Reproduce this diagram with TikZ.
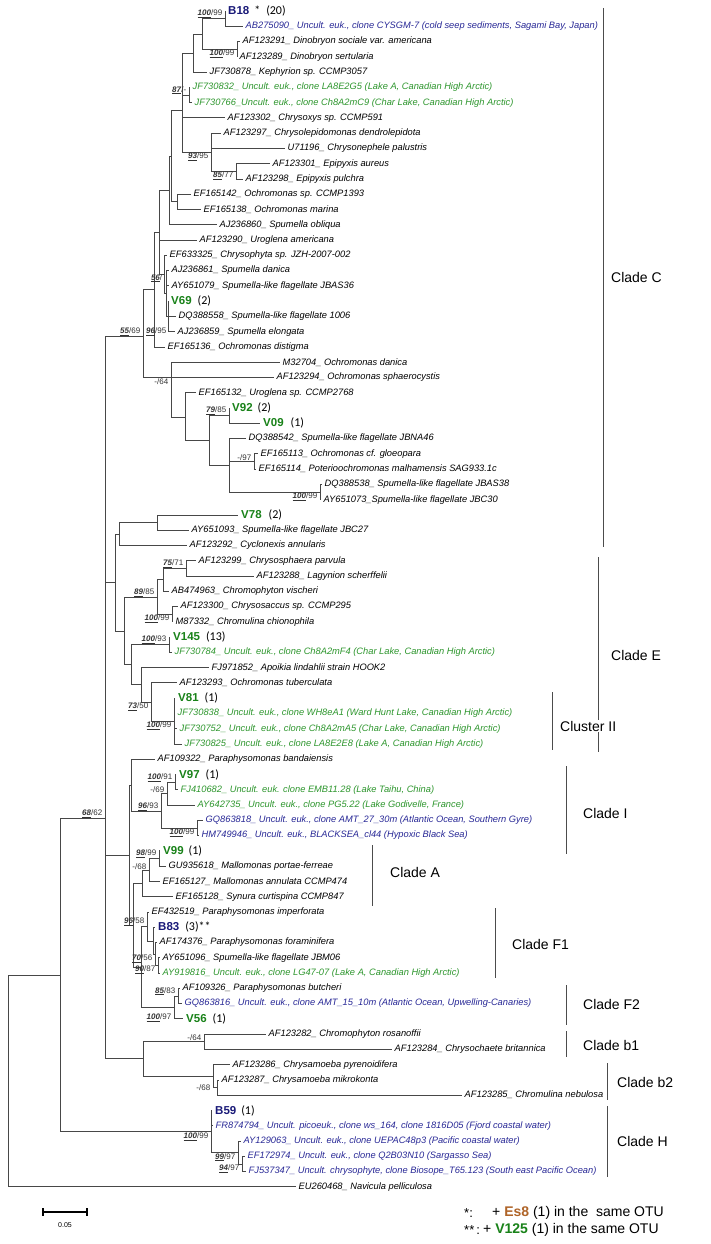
\documentclass[tikz,border=0pt]{standalone}
\usepackage{fontspec}
\setmainfont{Liberation Sans}
\newfontfamily\carl{Carlito}
\definecolor{seqgreen}{RGB}{45,150,45}
\definecolor{otugreen}{RGB}{25,130,25}
\definecolor{seqblue}{RGB}{40,40,150}
\definecolor{otublue}{RGB}{25,25,120}
\definecolor{esbrown}{RGB}{175,100,40}
\newcommand\lfont{\fontsize{9.3}{10}\selectfont\itshape}
\newcommand\ofont{\fontsize{11.5}{12}\selectfont\bfseries}
\newcommand\cnt[1]{{\color{black}\carl\mdseries\upshape\fontsize{12}{12}\selectfont #1}}
\newcommand\bsv[2]{\underline{\textbf{\textit{#1}}}/#2}
\newcommand\edgeN[2]{\draw[tr] (#1) |- (#2);}
\newcommand\edgeL[2]{\draw[tr] (#1) |- (#2.west);}
\tikzset{
 tr/.style={line width=0.8pt, draw=black!72},
 lf/.style={anchor=west, inner xsep=2.5pt, inner ysep=0.5pt, font=\lfont},
 lg/.style={lf, text=seqgreen},
 lb/.style={lf, text=seqblue},
 og/.style={anchor=west, inner xsep=3pt, inner ysep=0.5pt, font=\ofont, text=otugreen},
 ob/.style={og, text=otublue},
 sl/.style={font=\fontsize{8}{8}\selectfont, inner sep=0.6pt, text=black!80},
 brk/.style={line width=0.8pt, draw=black!70},
 cl/.style={anchor=west, font=\fontsize{14}{14}\selectfont, inner sep=0pt},
}
\begin{document}
\begin{tikzpicture}[x=1pt,y=-1pt]
\useasboundingbox[fill=white] (0,0) rectangle (710,1244);
\begin{scope}[y=-15.27pt, yshift=4.27pt]
% ---------- internal nodes ----------
\coordinate (nB18) at (225,1.5);
\coordinate (nDino) at (237,3.5);
\coordinate (nBD) at (202,2.5);
\coordinate (nBDK) at (193,3.75);
\coordinate (nGreen) at (189,6.5);
\coordinate (nA) at (182,7.5);
\coordinate (nChryso) at (211,10.25);
\coordinate (nEpi) at (236,11.5);
\coordinate (nOchro) at (177,13.5);
\coordinate (n171a) at (171,10.5);
\coordinate (n171b) at (169,12.75);
\coordinate (n159) at (159,15.5);
\coordinate (nSp3) at (164,18.25);
\coordinate (n166) at (166,19.5);
\coordinate (nSpA) at (168,21);
\coordinate (n154) at (154,19.25);
\coordinate (n171L) at (171,25);
\coordinate (nUro) at (185,27.6);
\coordinate (nV) at (209,29.1);
\coordinate (nV9) at (229,27.5);
\coordinate (nS) at (229,30.75);
\coordinate (nEF) at (254,30.5);
\coordinate (nJB) at (320,32.5);
\coordinate (nC) at (143,22.3);
\coordinate (nV78) at (157,34.5);
\coordinate (n119) at (119,35.25);
\coordinate (nLag) at (186,37.5);
\coordinate (n163) at (163,38.25);
\coordinate (nSac) at (172,40.5);
\coordinate (n157) at (157,39.4);
\coordinate (nV145) at (169,42.5);
\coordinate (nCII) at (174,47.5);
\coordinate (n151) at (151,46.25);
\coordinate (n141) at (141,45.1);
\coordinate (n131E) at (131,43.8);
\coordinate (n124) at (124,41.6);
\coordinate (n115) at (115,38.4);
\coordinate (nV97) at (175,51.5);
\coordinate (n167) at (167,52.25);
\coordinate (nHM) at (197,54.5);
\coordinate (n161) at (161,53.4);
\coordinate (nI) at (131,51.7);
\coordinate (nV99) at (159,56.5);
\coordinate (n149) at (149,57.25);
\coordinate (n142) at (142,58.1);
\coordinate (nFa) at (158,63.5);
\coordinate (nFb) at (155,62.75);
\coordinate (nFc) at (153,61.9);
\coordinate (nFd) at (147,60.95);
\coordinate (nBut) at (178,65.5);
\coordinate (nF2) at (174,66.25);
\coordinate (n141F) at (141,63.6);
\coordinate (nAF) at (133,60.85);
\coordinate (nIAF) at (129,56.3);
\coordinate (nb1) at (204,68.5);
\coordinate (nb2a) at (217,71.5);
\coordinate (nb2) at (213,70.75);
\coordinate (nb) at (143,69.6);
\coordinate (n105) at (105,53.9);
\coordinate (nHa) at (242,76.5);
\coordinate (nHb) at (238,75.75);
\coordinate (nHc) at (211,74.4);
\coordinate (n60) at (60,64.15);
\coordinate (root) at (8,71.1);
% ---------- leaves ----------
\node[ob] (L1) at (225,1) {B18\hspace{5pt}\cnt{*\hspace{6pt}(20)}};
\node[lb] (L2) at (243,2) {AB275090\_ Uncult. euk., clone CYSGM-7 (cold seep sediments, Sagami Bay, Japan)};
\node[lf] (L3) at (240,3) {AF123291\_ Dinobryon sociale var. americana};
\node[lf] (L4) at (237,4) {AF123289\_ Dinobryon sertularia};
\node[lf] (L5) at (207,5) {JF730878\_ Kephyrion sp. CCMP3057};
\node[lg] (L6) at (190,6) {JF730832\_ Uncult. euk., clone LA8E2G5 (Lake A, Canadian High Arctic)};
\node[lg] (L7) at (192,7) {JF730766\_Uncult. euk., clone Ch8A2mC9 (Char Lake, Canadian High Arctic)};
\node[lf] (L8) at (225,8) {AF123302\_ Chrysoxys sp. CCMP591};
\node[lf] (L9) at (221,9) {AF123297\_ Chrysolepidomonas dendrolepidota};
\node[lf] (L10) at (285,10) {U71196\_ Chrysonephele palustris};
\node[lf] (L11) at (270,11) {AF123301\_ Epipyxis aureus};
\node[lf] (L12) at (243,12) {AF123298\_ Epipyxis pulchra};
\node[lf] (L13) at (191,13) {EF165142\_ Ochromonas sp. CCMP1393};
\node[lf] (L14) at (201,14) {EF165138\_ Ochromonas marina};
\node[lf] (L15) at (217,15) {AJ236860\_ Spumella obliqua};
\node[lf] (L16) at (197,16) {AF123290\_ Uroglena americana};
\node[lf] (L17) at (167,17) {EF633325\_ Chrysophyta sp. JZH-2007-002};
\node[lf] (L18) at (169,18) {AJ236861\_ Spumella danica};
\node[lf] (L19) at (169,19) {AY651079\_ Spumella-like flagellate JBAS36};
\node[og] (L20) at (168,20) {V69\hspace{6pt}\cnt{(2)}};
\node[lf] (L21) at (176,21) {DQ388558\_ Spumella-like flagellate 1006};
\node[lf] (L22) at (175,22) {AJ236859\_ Spumella elongata};
\node[lf] (L23) at (165,23) {EF165136\_ Ochromonas distigma};
\node[lf] (L24) at (280,24) {M32704\_ Ochromonas danica};
\node[lf] (L25) at (274,25) {AF123294\_ Ochromonas sphaerocystis};
\node[lf] (L26) at (196,26) {EF165132\_ Uroglena sp. CCMP2768};
\node[og] (L27) at (229,27) {V92\hspace{5pt}\cnt{(2)}};
\node[og] (L28) at (260,28) {V09\hspace{7pt}\cnt{(1)}};
\node[lf] (L29) at (246,29) {DQ388542\_ Spumella-like flagellate JBNA46};
\node[lf] (L30) at (258,30) {EF165113\_ Ochromonas cf. gloeopara};
\node[lf] (L31) at (256,31) {EF165114\_ Poterioochromonas malhamensis SAG933.1c};
\node[lf] (L32) at (322,32) {DQ388538\_ Spumella-like flagellate JBAS38};
\node[lf] (L33) at (321,33) {AY651073\_Spumella-like flagellate JBC30};
\node[og] (L34) at (238,34) {V78\hspace{7pt}\cnt{(2)}};
\node[lf] (L35) at (189,35) {AY651093\_ Spumella-like flagellate JBC27};
\node[lf] (L36) at (187,36) {AF123292\_ Cyclonexis annularis};
\node[lf] (L37) at (196,37) {AF123299\_ Chrysosphaera parvula};
\node[lf] (L38) at (254,38) {AF123288\_ Lagynion scherffelii};
\node[lf] (L39) at (169,39) {AB474963\_ Chromophyton vischeri};
\node[lf] (L40) at (178,40) {AF123300\_ Chrysosaccus sp. CCMP295};
\node[lf] (L41) at (173,41) {M87332\_ Chromulina chionophila};
\node[og] (L42) at (170,42) {V145\hspace{6pt}\cnt{(13)}};
\node[lg] (L43) at (172,43) {JF730784\_ Uncult. euk., clone Ch8A2mF4 (Char Lake, Canadian High Arctic)};
\node[lf] (L44) at (209,44) {FJ971852\_ Apoikia lindahlii strain HOOK2};
\node[lf] (L45) at (177,45) {AF123293\_ Ochromonas tuberculata};
\node[og] (L46) at (175,46) {V81\hspace{6pt}\cnt{(1)}};
\node[lg] (L47) at (175,47) {JF730838\_ Uncult. euk., clone WH8eA1 (Ward Hunt Lake, Canadian High Arctic)};
\node[lg] (L48) at (177,48) {JF730752\_ Uncult. euk., clone Ch8A2mA5 (Char Lake, Canadian High Arctic)};
\node[lg] (L49) at (182,49) {JF730825\_ Uncult. euk., clone LA8E2E8 (Lake A, Canadian High Arctic)};
\node[lf] (L50) at (155,50) {AF109322\_ Paraphysomonas bandaiensis};
\node[og] (L51) at (176,51) {V97\hspace{6pt}\cnt{(1)}};
\node[lg] (L52) at (178,52) {FJ410682\_ Uncult. euk. clone EMB11.28 (Lake Taihu, China)};
\node[lg] (L53) at (195,53) {AY642735\_ Uncult. euk., clone PG5.22 (Lake Godivelle, France)};
\node[lb] (L54) at (203,54) {GQ863818\_ Uncult. euk., clone AMT\_27\_30m (Atlantic Ocean, Southern Gyre)};
\node[lb] (L55) at (199,55) {HM749946\_ Uncult. euk., BLACKSEA\_cl44 (Hypoxic Black Sea)};
\node[og] (L56) at (160,56) {V99\hspace{5pt}\cnt{(1)}};
\node[lf] (L57) at (166,57) {GU935618\_ Mallomonas portae-ferreae};
\node[lf] (L58) at (160,58) {EF165127\_ Mallomonas annulata CCMP474};
\node[lf] (L59) at (173,59) {EF165128\_ Synura curtispina CCMP847};
\node[lf] (L60) at (149,60) {EF432519\_ Paraphysomonas imperforata};
\node[ob] (L61) at (155,61) {B83\hspace{6pt}\cnt{(3)**}};
\node[lf] (L62) at (157,62) {AF174376\_ Paraphysomonas foraminifera};
\node[lf] (L63) at (160,63) {AY651096\_ Spumella-like flagellate JBM06};
\node[lg] (L64) at (160,64) {AY919816\_ Uncult. euk., clone LG47-07 (Lake A, Canadian High Arctic)};
\node[lf] (L65) at (180,65) {AF109326\_ Paraphysomonas butcheri};
\node[lb] (L66) at (182,66) {GQ863816\_ Uncult. euk., clone AMT\_15\_10m (Atlantic Ocean, Upwelling-Canaries)};
\node[og] (L67) at (183,67) {V56\hspace{6pt}\cnt{(1)}};
\node[lf] (L68) at (266,68) {AF123282\_ Chromophyton rosanoffii};
\node[lf] (L69) at (392,69) {AF123284\_ Chrysochaete britannica};
\node[lf] (L70) at (230,70) {AF123286\_ Chrysamoeba pyrenoidifera};
\node[lf] (L71) at (219,71) {AF123287\_ Chrysamoeba mikrokonta};
\node[lf] (L72) at (462,72) {AF123285\_ Chromulina nebulosa};
\node[ob] (L73) at (212,73) {B59\hspace{5pt}\cnt{(1)}};
\node[lb] (L74) at (213,74) {FR874794\_ Uncult. picoeuk., clone ws\_164, clone 1816D05 (Fjord coastal water)};
\node[lb] (L75) at (241,75) {AY129063\_ Uncult. euk., clone UEPAC48p3 (Pacific coastal water)};
\node[lb] (L76) at (245,76) {EF172974\_ Uncult. euk., clone Q2B03N10 (Sargasso Sea)};
\node[lb] (L77) at (246,77) {FJ537347\_ Uncult. chrysophyte, clone Biosope\_T65.123 (South east Pacific Ocean)};
\node[lf] (L78) at (296,78) {EU260468\_ Navicula pelliculosa};
% ---------- edges ----------
\edgeL{nB18}{L1} \edgeL{nB18}{L2}
\edgeL{nDino}{L3} \edgeL{nDino}{L4}
\edgeN{nBD}{nB18} \edgeN{nBD}{nDino}
\edgeN{nBDK}{nBD} \edgeL{nBDK}{L5}
\edgeL{nGreen}{L6} \edgeL{nGreen}{L7}
\edgeN{nA}{nBDK} \edgeN{nA}{nGreen} \edgeL{nA}{L8} \edgeN{nA}{nChryso}
\edgeL{nChryso}{L9} \edgeL{nChryso}{L10} \edgeN{nChryso}{nEpi}
\edgeL{nEpi}{L11} \edgeL{nEpi}{L12}
\edgeL{nOchro}{L13} \edgeL{nOchro}{L14}
\edgeN{n171a}{nA} \edgeN{n171a}{nOchro}
\edgeN{n171b}{n171a} \edgeL{n171b}{L15}
\edgeN{n159}{n171b} \edgeL{n159}{L16} \edgeN{n159}{nSp3}
\edgeL{nSp3}{L17} \edgeN{nSp3}{n166}
\edgeL{n166}{L18} \edgeL{n166}{L19} \edgeN{n166}{nSpA}
\edgeL{nSpA}{L20} \edgeL{nSpA}{L21} \edgeL{nSpA}{L22}
\edgeN{n154}{n159} \edgeL{n154}{L23}
\edgeL{n171L}{L24} \edgeL{n171L}{L25} \edgeN{n171L}{nUro}
\edgeL{nUro}{L26} \edgeN{nUro}{nV}
\edgeN{nV}{nV9} \edgeN{nV}{nS}
\edgeL{nV9}{L27} \edgeL{nV9}{L28}
\edgeL{nS}{L29} \edgeN{nS}{nEF} \edgeN{nS}{nJB}
\edgeL{nEF}{L30} \edgeL{nEF}{L31}
\edgeL{nJB}{L32} \edgeL{nJB}{L33}
\edgeN{nC}{n154} \edgeN{nC}{n171L}
\edgeL{nV78}{L34} \edgeL{nV78}{L35}
\edgeN{n119}{nV78} \edgeL{n119}{L36}
\edgeL{nLag}{L37} \edgeL{nLag}{L38}
\edgeN{n163}{nLag} \edgeL{n163}{L39}
\edgeL{nSac}{L40} \edgeL{nSac}{L41}
\edgeN{n157}{n163} \edgeN{n157}{nSac}
\edgeL{nV145}{L42} \edgeL{nV145}{L43}
\edgeL{nCII}{L46} \edgeL{nCII}{L47} \edgeL{nCII}{L48} \edgeL{nCII}{L49}
\edgeL{n151}{L45} \edgeN{n151}{nCII}
\edgeL{n141}{L44} \edgeN{n141}{n151}
\edgeN{n131E}{nV145} \edgeN{n131E}{n141}
\edgeN{n124}{n157} \edgeN{n124}{n131E}
\edgeN{n115}{n119} \edgeN{n115}{n124}
\edgeL{nV97}{L51} \edgeL{nV97}{L52}
\edgeN{n167}{nV97} \edgeL{n167}{L53}
\edgeL{nHM}{L54} \edgeL{nHM}{L55}
\edgeN{n161}{n167} \edgeN{n161}{nHM}
\edgeL{nI}{L50} \edgeN{nI}{n161}
\edgeL{nV99}{L56} \edgeL{nV99}{L57}
\edgeN{n149}{nV99} \edgeL{n149}{L58}
\edgeN{n142}{n149} \edgeL{n142}{L59}
\edgeL{nFa}{L63} \edgeL{nFa}{L64}
\edgeL{nFb}{L62} \edgeN{nFb}{nFa}
\edgeL{nFc}{L61} \edgeN{nFc}{nFb}
\edgeL{nFd}{L60} \edgeN{nFd}{nFc}
\edgeL{nBut}{L65} \edgeL{nBut}{L66}
\edgeN{nF2}{nBut} \edgeL{nF2}{L67}
\edgeN{n141F}{nFd} \edgeN{n141F}{nF2}
\edgeN{nAF}{n142} \edgeN{nAF}{n141F}
\edgeN{nIAF}{nI} \edgeN{nIAF}{nAF}
\edgeL{nb1}{L68} \edgeL{nb1}{L69}
\edgeL{nb2a}{L71} \edgeL{nb2a}{L72}
\edgeL{nb2}{L70} \edgeN{nb2}{nb2a}
\edgeN{nb}{nb1} \edgeN{nb}{nb2}
\edgeN{n105}{nC} \edgeN{n105}{n115} \edgeN{n105}{nIAF} \edgeN{n105}{nb}
\edgeL{nHa}{L76} \edgeL{nHa}{L77}
\edgeL{nHb}{L75} \edgeN{nHb}{nHa}
\edgeL{nHc}{L73} \edgeL{nHc}{L74} \edgeN{nHc}{nHb}
\edgeN{n60}{n105} \edgeN{n60}{nHc}
\edgeN{root}{n60} \edgeL{root}{L78}
% ---------- support values ----------
\node[sl, anchor=south east] (s1) at (223,1.5) {\bsv{100}{99}};
\node[sl, anchor=north east] (s2) at (235,3.5) {\bsv{100}{99}};
\node[sl, anchor=south east] (s3) at (187,6.5) {\bsv{87}{-}};
\node[sl, anchor=north east] (s4) at (209,10.25) {\bsv{93}{95}};
\node[sl, anchor=north east] (s5) at (234,11.5) {\bsv{85}{77}};
\node[sl, anchor=east] (s6) at (163,18.5) {\bsv{56}{}};
\node[sl, anchor=east] (s7) at (167,22) {\bsv{96}{95}};
\node[sl, anchor=south east] (s8) at (141,22.3) {\bsv{55}{69}};
\node[sl, anchor=north east] (s9) at (169,25) {-/64};
\node[sl, anchor=south east] (s10) at (227,27.5) {\bsv{79}{85}};
\node[sl, anchor=south east] (s11) at (252,30.5) {-/97};
\node[sl, anchor=north east] (s12) at (318,32.5) {\bsv{100}{99}};
\node[sl, anchor=south east] (s13) at (184,37.5) {\bsv{75}{71}};
\node[sl, anchor=south east] (s14) at (155,39.4) {\bsv{89}{85}};
\node[sl, anchor=north east] (s15) at (170,40.5) {\bsv{100}{99}};
\node[sl, anchor=south east] (s16) at (167,42.5) {\bsv{100}{93}};
\node[sl, anchor=north east] (s17) at (149,46.25) {\bsv{73}{50}};
\node[sl, anchor=north east] (s18) at (172,47.5) {\bsv{100}{99}};
\node[sl, anchor=south east] (s19) at (173,51.5) {\bsv{100}{91}};
\node[sl, anchor=south east] (s20) at (165,52.25) {-/69};
\node[sl, anchor=south east] (s21) at (159,53.4) {\bsv{96}{93}};
\node[sl, anchor=north east] (s22) at (195,54.5) {\bsv{100}{99}};
\node[sl, anchor=south east] (s23) at (157,56.5) {\bsv{98}{99}};
\node[sl, anchor=south east] (s24) at (147,57.25) {-/68};
\node[sl, anchor=south east] (s25) at (145,60.95) {\bsv{96}{58}};
\node[sl, anchor=north east] (s26) at (153,62.75) {\bsv{70}{56}};
\node[sl, anchor=north east] (s27) at (156,63.5) {\bsv{90}{87}};
\node[sl, anchor=south east] (s28) at (176,65.5) {\bsv{85}{83}};
\node[sl, anchor=north east] (s29) at (172,66.6) {\bsv{100}{97}};
\node[sl, anchor=south east] (s30) at (202,68.5) {-/64};
\node[sl, anchor=east] (s31) at (211,71.5) {-/68};
\node[sl, anchor=north east] (s32) at (209,74.4) {\bsv{100}{99}};
\node[sl, anchor=north east] (s33) at (236,75.75) {\bsv{99}{97}};
\node[sl, anchor=north east] (s34) at (240,76.5) {\bsv{94}{97}};
\node[sl, anchor=south east] (s35) at (103,53.9) {\bsv{68}{62}};
\end{scope}
% ---------- clade brackets ----------
\coordinate (bC1) at (603,8); \coordinate (bC2) at (603,547);
\draw[brk] (bC1) -- (bC2); \node[cl] (tC) at (611,277) {Clade C};
\coordinate (bE1) at (598,557); \coordinate (bE2) at (598,752);
\draw[brk] (bE1) -- (bE2); \node[cl] (tE) at (611,655) {Clade E};
\coordinate (bII1) at (552,692); \coordinate (bII2) at (552,750);
\draw[brk] (bII1) -- (bII2); \node[cl, fill=white, inner sep=1pt] (tII) at (559,726) {Cluster II};
\coordinate (bI1) at (566,766); \coordinate (bI2) at (566,854);
\draw[brk] (bI1) -- (bI2); \node[cl] (tI) at (583,813) {Clade I};
\coordinate (bA1) at (372,845); \coordinate (bA2) at (372,906);
\draw[brk] (bA1) -- (bA2); \node[cl] (tA) at (390,872) {Clade A};
\coordinate (bF11) at (495,908); \coordinate (bF12) at (495,978);
\draw[brk] (bF11) -- (bF12); \node[cl] (tF1) at (512,944) {Clade F1};
\coordinate (bF21) at (566,985); \coordinate (bF22) at (566,1025);
\draw[brk] (bF21) -- (bF22); \node[cl] (tF2) at (583,1004) {Clade F2};
\coordinate (bb11) at (566,1031); \coordinate (bb12) at (566,1057);
\draw[brk] (bb11) -- (bb12); \node[cl] (tb1) at (583,1045) {Clade b1};
\coordinate (bb21) at (607,1063); \coordinate (bb22) at (607,1100);
\draw[brk] (bb21) -- (bb22); \node[cl] (tb2) at (617,1082) {Clade b2};
\coordinate (bH1) at (607,1106); \coordinate (bH2) at (607,1177);
\draw[brk] (bH1) -- (bH2); \node[cl] (tH) at (617,1141) {Clade H};
% ---------- scale bar ----------
\coordinate (sb1) at (43,1212); \coordinate (sb2) at (87,1212);
\draw[line width=1.4pt] (sb1) -- (sb2);
\draw[line width=1.4pt] ([yshift=4pt]sb1) -- ([yshift=-4pt]sb1);
\draw[line width=1.4pt] ([yshift=4pt]sb2) -- ([yshift=-4pt]sb2);
\node[font=\fontsize{7}{7}\selectfont, inner sep=0pt] (sbl) at (65,1225) {0.05};
% ---------- legend ----------
\node[anchor=west, inner sep=0pt, font=\fontsize{13}{13}\selectfont] (lg1a) at (464,1213) {*:};
\node[anchor=west, inner sep=0pt, font=\fontsize{14}{14}\selectfont] (lg1b) at (492,1213) {+ \textcolor{esbrown}{\textbf{Es8}} (1) in the\ \ same OTU};
\node[anchor=west, inner sep=0pt, font=\fontsize{13}{13}\selectfont] (lg2a) at (464,1230) {**\,:};
\node[anchor=west, inner sep=0pt, font=\fontsize{14}{14}\selectfont] (lg2b) at (483,1230) {+ \textcolor{otugreen}{\textbf{V125}} (1) in the same OTU};
\end{tikzpicture}
\end{document}
